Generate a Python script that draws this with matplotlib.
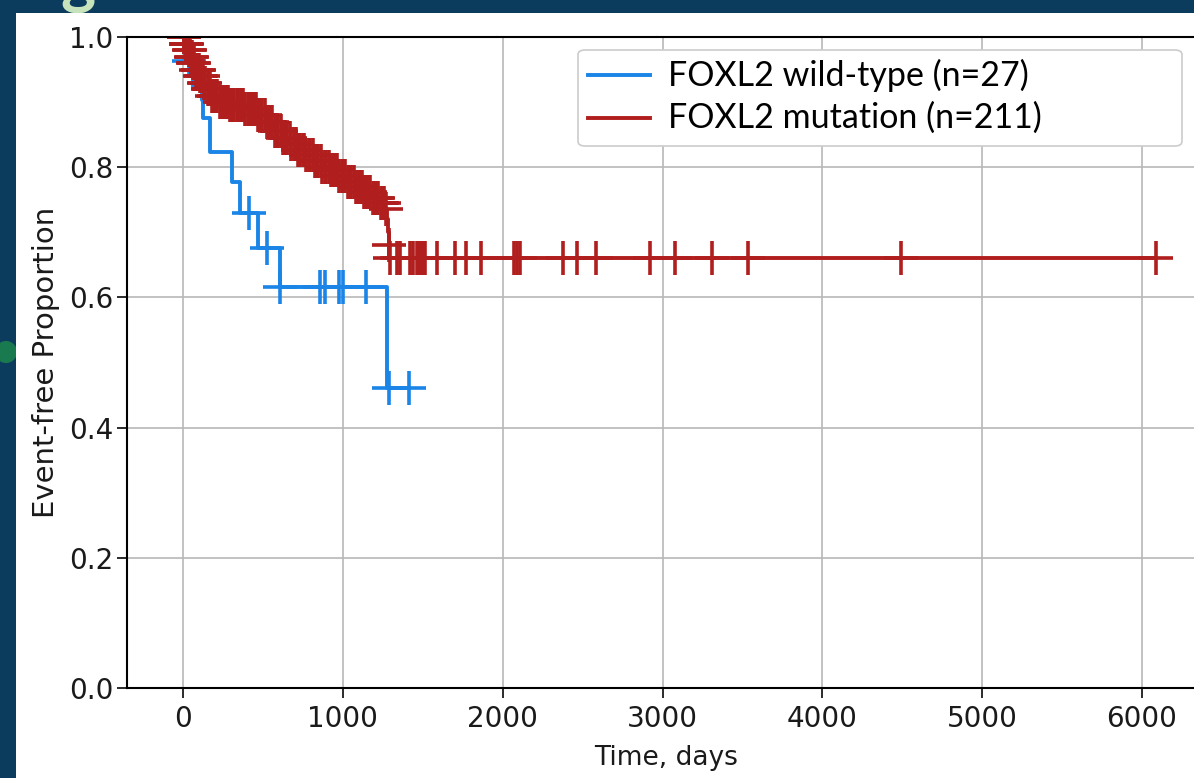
import numpy as np
import matplotlib.pyplot as plt
from matplotlib.patches import Rectangle, FancyBboxPatch, Ellipse
from matplotlib.lines import Line2D

# Kaplan-Meier steps (time in days, event-free proportion)
wt_times = [0, 10, 62, 119, 125, 169, 306, 356, 469, 606, 1275, 1412]
wt_surv = [1.0, 0.963, 0.922, 0.903, 0.876, 0.823, 0.777, 0.730, 0.676, 0.616, 0.461, 0.461]
wt_censor = [35, 412, 525, 606, 856, 887, 975, 1000, 1144, 1287, 1412]

mut_times = [0, 15, 30, 45, 62, 80, 100, 125, 150, 175, 220, 290, 380, 460, 520,
             570, 620, 670, 712, 760, 820, 870, 918, 970, 1020, 1075, 1125, 1180,
             1230, 1262, 1276, 1281, 1286, 1292, 6087]
mut_surv = [1.0, 0.99, 0.98, 0.97, 0.96, 0.95, 0.94, 0.93, 0.92, 0.91, 0.90, 0.895,
            0.89, 0.88, 0.87, 0.855, 0.845, 0.835, 0.826, 0.818, 0.81, 0.80, 0.795,
            0.787, 0.778, 0.77, 0.762, 0.752, 0.745, 0.736, 0.72, 0.70, 0.68, 0.66, 0.66]
mut_censor = [4, 9, 17, 22, 28, 36, 41, 50, 57, 66, 71, 83, 92, 98, 108, 116, 123,
              134, 141, 155, 162, 171, 183, 196, 207, 214, 231, 245, 256, 268, 282,
              297, 309, 322, 336, 351, 364, 377, 391, 405, 418, 431, 447, 455, 472,
              484, 497, 511, 523, 538, 546, 559, 578, 586, 597, 612, 628, 641, 653,
              667, 679, 694, 705, 721, 733, 748, 756, 772, 787, 794, 812, 825, 833,
              847, 861, 873, 889, 897, 911, 926, 938, 952, 963, 979, 994, 1007,
              1016, 1033, 1048, 1054, 1069, 1081, 1096, 1108, 1119, 1134, 1147,
              1158, 1171, 1186, 1199, 1213, 1221, 1236, 1248, 1258, 1270,
              1289, 1294, 1337, 1356, 1419, 1437, 1462, 1469, 1481, 1494, 1500,
              1512, 1587, 1700, 1769, 1862, 2069, 2087, 2106, 2375, 2462, 2581,
              2919, 3081, 3312, 3537, 4494, 6087]

labels = ['FOXL2 wild-type (n=27)', 'FOXL2 mutation (n=211)']
colors = ['#1a85e6', '#b01e1e']


def level_at(t, times, surv):
    idx = np.searchsorted(times, t, side='right') - 1
    return np.asarray(surv)[idx]


W, H = 1194, 778
fig = plt.figure(figsize=(W / 100, H / 100), dpi=100)
fig.patch.set_facecolor('#0b3c5d')

# bits of the slide peeking out round the white panel
fig.text(60 / W, 1.0, 'g', fontsize=48, family='Lato', weight='bold',
         color='#c6e3bb', va='baseline', zorder=-2)
fig.add_artist(Ellipse((6 / W, 1 - 352 / H), 22 / W, 22 / H, transform=fig.transFigure,
                       facecolor='#1f8a4c', edgecolor='none', alpha=0.8, zorder=-2))
fig.add_artist(Rectangle((16 / W, 0), 1 - 16 / W, (H - 13) / H,
                         transform=fig.transFigure, facecolor='white',
                         edgecolor='none', zorder=-1))

ax = fig.add_axes([127 / W, 1 - 688 / H, (1206 - 127) / W, (688 - 37) / H])
ax.set_facecolor('white')

series = [(wt_times, wt_surv, wt_censor), (mut_times, mut_surv, mut_censor)]
for (t, s, c), lab, col in zip(series, labels, colors):
    ax.step(t, s, where='post', color=col, lw=2.8, label=lab)
    ax.plot(c, level_at(c, t, s), ls='none', marker='+', ms=24, mew=2.6, color=col)

ax.set_xlim(-350, 6400)
ax.set_ylim(0, 1.0)
ax.set_xticks(range(0, 7000, 1000))
ax.set_yticks([0, 0.2, 0.4, 0.6, 0.8, 1.0])
ax.grid(True, color='#b8b8b8', lw=1.2)
ax.set_axisbelow(True)
for sp in ax.spines.values():
    sp.set_linewidth(1.5)
ax.tick_params(axis='both', labelsize=20, length=7, width=1.3, colors='#1a1a1a')
ax.tick_params(axis='x', pad=5)
ax.tick_params(axis='y', pad=3)
ax.set_xlabel('Time, days', fontsize=19, color='#1a1a1a', labelpad=9)
ax.set_ylabel('Event-free Proportion', fontsize=21, color='#1a1a1a', labelpad=6)

# legend box (wider than its text, as on the slide)
fig.add_artist(FancyBboxPatch((578 / W, 1 - 146 / H), (1182 - 578) / W, (146 - 50) / H,
                              boxstyle='round,pad=0,rounding_size=0.006',
                              transform=fig.transFigure, facecolor='white',
                              edgecolor='#cccccc', lw=1.2, zorder=5))
for i, (lab, col) in enumerate(zip(labels, colors)):
    yc = 1 - (75 + 43 * i) / H
    fig.add_artist(Line2D([588 / W, 650 / W], [yc, yc], transform=fig.transFigure,
                          color=col, lw=2.8, zorder=6))
    fig.text(668 / W, yc, lab, fontsize=24.5, family='Lato', color='black',
             va='center', ha='left', zorder=6)

fig.savefig('out.png', dpi=100, facecolor=fig.get_facecolor())
